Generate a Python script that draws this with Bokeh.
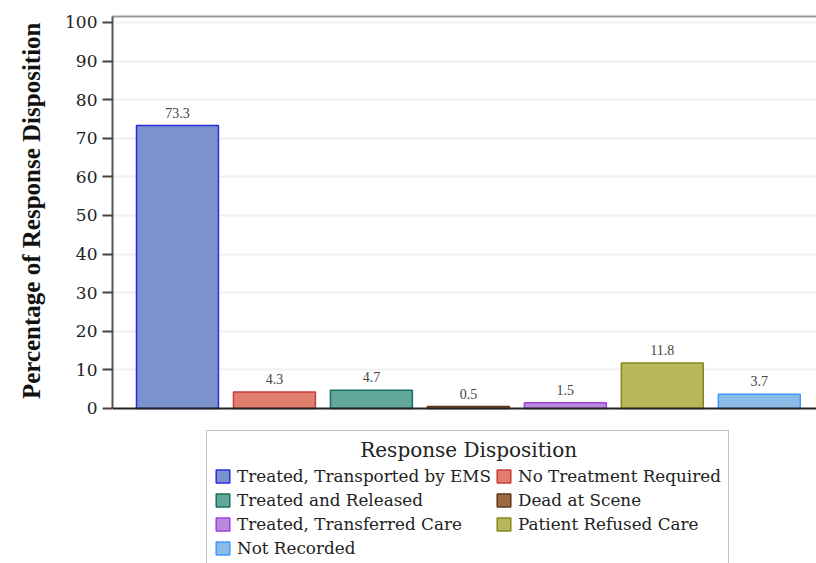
from bokeh.plotting import figure
from bokeh.models import ColumnDataSource, Range1d, LinearAxis, FixedTicker, LabelSet, Span, Title
from bokeh.embed import file_html
from bokeh.resources import INLINE

categories = ["Treated, Transported by EMS", "No Treatment Required", "Treated and Released",
              "Dead at Scene", "Treated, Transferred Care", "Patient Refused Care", "Not Recorded"]
values = [73.3, 4.3, 4.7, 0.5, 1.5, 11.8, 3.7]
fill_colors = ["#7b93cc", "#e07e70", "#62a79c", "#9e6b3e", "#b98ad9", "#b8b85a", "#8dbbe8"]
line_colors = ["#2b2be6", "#cc3b3b", "#17705f", "#5a3717", "#a23ee0", "#86861c", "#3a9bff"]
y_ticks = [0, 10, 20, 30, 40, 50, 60, 70, 80, 90, 100]
y_title = "Percentage of Response Disposition"
legend_title = "Response Disposition"

SERIF = "DejaVu Serif"

src = ColumnDataSource(dict(
    x=list(range(len(categories))),
    top=values,
    label=[f"{v:.1f}" for v in values],
    category=categories,
    fill=fill_colors,
    line=line_colors,
))

p = figure(width=816, height=563, output_backend="svg", toolbar_location=None,
           x_range=Range1d(-0.67, 6.59), y_range=Range1d(-40.16, 101.55),
           min_border_left=112, min_border_right=0, min_border_top=16, min_border_bottom=0)
p.outline_line_color = None
p.background_fill_color = "white"

p.vbar(x="x", top="top", width=0.845, source=src, fill_color="fill", line_color="line",
       line_width=1.5, legend_field="category")

labels = LabelSet(x="x", y="top", text="label", source=src, text_align="center",
                  text_baseline="bottom", y_offset=8, text_font=SERIF,
                  text_font_size="14px", text_color="#444444")
p.add_layout(labels)

# baseline (x axis line)
p.xaxis.visible = False
p.xgrid.grid_line_color = None
baseline = Span(location=0, dimension="width", line_color="#222222", line_width=2)
p.add_layout(baseline)

top_axis = LinearAxis(ticker=FixedTicker(ticks=[]), major_tick_line_color=None,
                      minor_tick_line_color=None, axis_line_color="#9a9a9a",
                      axis_line_width=2)
p.add_layout(top_axis, "above")

p.yaxis.bounds = (0, 101.55)
p.yaxis.ticker = FixedTicker(ticks=y_ticks)
p.yaxis.minor_tick_line_color = None
p.yaxis.major_tick_out = 10
p.yaxis.major_tick_in = 0
p.yaxis.major_tick_line_color = "#444444"
p.yaxis.major_tick_line_width = 2
p.yaxis.axis_line_color = "#555555"
p.yaxis.axis_line_width = 2
p.yaxis.major_label_text_font = SERIF
p.yaxis.major_label_text_font_size = "17px"
p.yaxis.major_label_text_color = "#222222"
p.yaxis.major_label_standoff = 5

ytitle = Title(text=y_title, align="right", offset=6, standoff=32, vertical_align="top",
               text_font="Liberation Serif", text_font_style="bold",
               text_font_size="25px", text_color="#111111")
p.add_layout(ytitle, "left")

p.ygrid.grid_line_color = "#efefef"
p.ygrid.grid_line_width = 2
p.ygrid.ticker = FixedTicker(ticks=y_ticks[1:])

leg = p.legend[0]
leg.title = "\u00a0" * 23 + legend_title
leg.title_text_font = SERIF
leg.title_text_font_size = "20px"
leg.title_text_font_style = "normal"
leg.title_text_color = "#222222"
leg.title_standoff = 4
leg.label_text_font = SERIF
leg.label_text_font_size = "16.8px"
leg.label_text_color = "#222222"
leg.label_height = 20
leg.glyph_height = 16
leg.glyph_width = 17
leg.label_standoff = 6
leg.spacing = 4
leg.padding = 7
leg.orientation = "horizontal"
leg.ncols = 2
leg.border_line_color = "#8a8a8a"
leg.border_line_width = 1.5
leg.background_fill_color = "white"
leg.background_fill_alpha = 1
leg.location = (94, -3)

open("out.html", "w").write(file_html(p, INLINE))
